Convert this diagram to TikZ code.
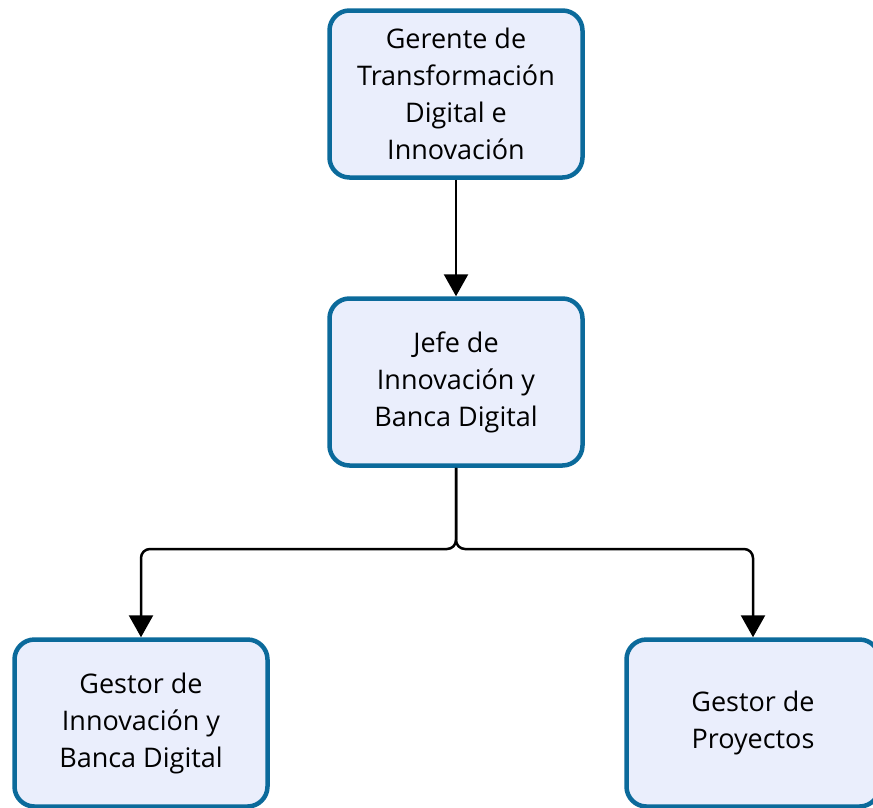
\documentclass[tikz,border=0pt]{standalone}
\usepackage{fontspec}
\setmainfont{Open Sans}
\usetikzlibrary{arrows.meta}
\definecolor{boxblue}{HTML}{0B6A9B}
\definecolor{boxfill}{HTML}{EAEEFC}
\begin{document}
\begin{tikzpicture}[x=1pt,y=-1pt,
	box/.style = {draw=boxblue, line width=4.5pt, fill=boxfill, rounded corners=20pt,
		minimum width=253pt, minimum height=167pt, align=center, inner sep=0pt,
		font=\fontsize{27}{37}\selectfont},
	link/.style = {line width=2.5pt, rounded corners=9pt, -{Triangle[width=24pt,length=22pt]}}]
	\useasboundingbox (0,0) rectangle (873,807);
	\node [box] (gerente) at (456,94) {Gerente de\\Transformación\\Digital e\\Innovación};
	\node [box] (jefe) at (456,382) {Jefe de\\Innovación y\\Banca Digital};
	\node [box] (gestorInn) at (141,723) {Gestor de\\Innovación y\\Banca Digital};
	\node [box] (gestorPro) at (753,723) {Gestor de\\Proyectos};
	\coordinate (split) at (456,549);
	\draw [link] (gerente) -- (jefe);
	\draw [link] (jefe.south) -- (split) -| (gestorInn.north);
	\draw [link] (jefe.south) -- (split) -| (gestorPro.north);
\end{tikzpicture}
\end{document}
